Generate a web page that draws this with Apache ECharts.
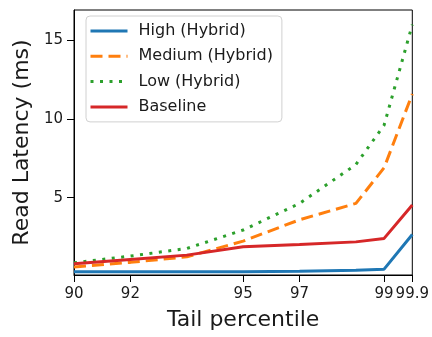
<!DOCTYPE html>
<html>
<head>
<meta charset="utf-8">
<script src="https://cdn.jsdelivr.net/npm/echarts@6/dist/echarts.min.js"></script>
<style>
  html, body { margin: 0; padding: 0; background: #fff; }
  #chart { width: 432px; height: 337px; }
</style>
</head>
<body>
<div id="chart"></div>
<script>
// x positions of the measured points (evenly spaced slots, 99 sits half way)
const xPos = [0, 1, 2, 3, 4, 5, 5.5, 6];
const tickPos = [0, 1, 3, 4, 5.5, 6];
const tickLabels = ["90", "92", "95", "97", "99", "99.9"];
const yTicks = [5, 10, 15];

const high = [0.3, 0.3, 0.3, 0.3, 0.33, 0.4, 0.47, 2.67];
const medium = [0.6, 0.9, 1.25, 2.25, 3.6, 4.64, 6.9, 11.57];
const low = [0.87, 1.3, 1.78, 2.95, 4.64, 7.1, 9.6, 15.97];
const baseline = [0.82, 1.09, 1.36, 1.89, 2.04, 2.2, 2.42, 4.54];

const font = "DejaVu Sans";

const chart = echarts.init(document.getElementById("chart"));

const pair = (vals) => vals.map((v, i) => [xPos[i], v]);

const mkSeries = (name, vals, color, dash) => ({
  name: name,
  type: "line",
  data: pair(vals),
  symbol: "none",
  lineStyle: {
    color: color,
    width: 3,
    type: dash,
    cap: "butt",
  },
  itemStyle: { color: color },
});

const option = {
  animation: false,
  grid: {
    left: 74,
    right: 17,
    top: 10,
    bottom: 62,
    show: true,
    borderColor: "#000",
    borderWidth: 1,
  },
  legend: {
    orient: "vertical",
    left: 86,
    top: 16,
    padding: [7, 9, 7, 3],
    itemWidth: 37,
    itemHeight: 14,
    itemGap: 9.3,
    itemStyle: { opacity: 0 },
    lineStyle: { width: 3 },
    backgroundColor: "rgba(255,255,255,0.85)",
    borderColor: "#d0d0d0",
    borderWidth: 1,
    borderRadius: 4,
    textStyle: {
      fontFamily: font,
      fontSize: 16,
      color: "#1a1a1a",
      lineHeight: 16,
      padding: [0, 0, 0, 6],
    },
    data: ["High (Hybrid)", "Medium (Hybrid)", "Low (Hybrid)", "Baseline"],
  },
  xAxis: {
    type: "value",
    min: 0,
    max: 6,
    name: "Tail percentile",
    nameLocation: "middle",
    nameGap: 34,
    nameTextStyle: { fontFamily: font, fontSize: 22, color: "#1a1a1a" },
    axisLine: { show: true, lineStyle: { color: "#000", width: 1 } },
    axisTick: {
      show: true,
      length: 7,
      customValues: tickPos,
      lineStyle: { color: "#000" },
    },
    axisLabel: {
      customValues: tickPos,
      margin: 12,
      fontFamily: font,
      fontSize: 15,
      color: "#1a1a1a",
      formatter: (v) => {
        const i = tickPos.indexOf(v);
        return i >= 0 ? tickLabels[i] : "";
      },
    },
    splitLine: { show: false },
  },
  yAxis: {
    type: "value",
    min: 0.1,
    max: 16.9,
    name: "Read Latency (ms)",
    nameLocation: "middle",
    nameGap: 40,
    nameTextStyle: { fontFamily: font, fontSize: 22, color: "#1a1a1a" },
    axisLine: { show: true, lineStyle: { color: "#000", width: 1 } },
    axisTick: {
      show: true,
      length: 7,
      customValues: yTicks,
      lineStyle: { color: "#000" },
    },
    axisLabel: {
      customValues: yTicks,
      margin: 11,
      fontFamily: font,
      fontSize: 15,
      color: "#1a1a1a",
    },
    splitLine: { show: false },
  },
  series: [
    mkSeries("High (Hybrid)", high, "#1f77b4", "solid"),
    mkSeries("Medium (Hybrid)", medium, "#ff7f0e", [12, 6]),
    mkSeries("Low (Hybrid)", low, "#2ca02c", [3, 6.5]),
    mkSeries("Baseline", baseline, "#d62728", "solid"),
  ],
};

chart.setOption(option);
</script>
</body>
</html>
